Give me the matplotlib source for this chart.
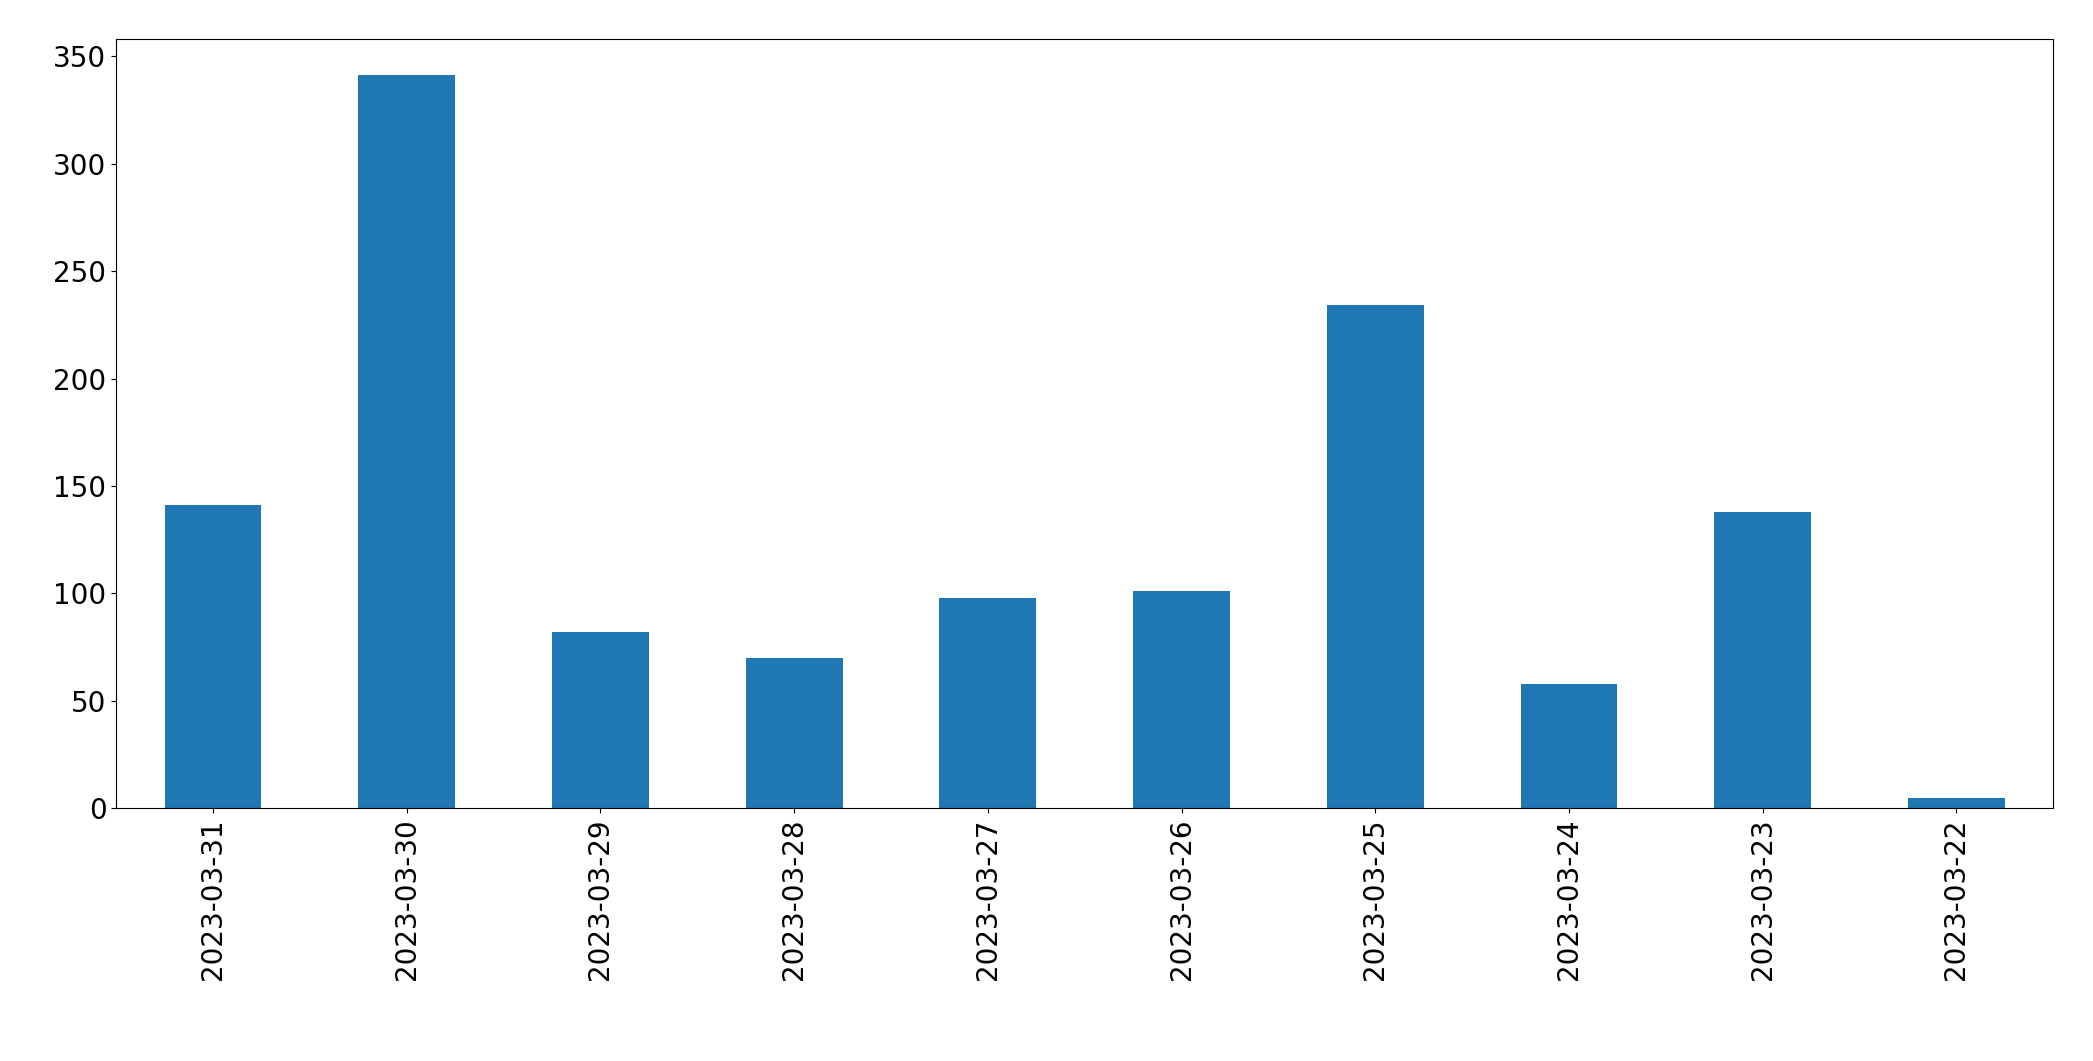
import matplotlib
matplotlib.use("Agg")
import matplotlib.pyplot as plt

dates = ["2023-03-31", "2023-03-30", "2023-03-29", "2023-03-28", "2023-03-27",
         "2023-03-26", "2023-03-25", "2023-03-24", "2023-03-23", "2023-03-22"]
counts = [141, 341, 82, 70, 98, 101, 234, 58, 138, 5]

fig = plt.figure(figsize=(20.93, 10.61), dpi=100)
ax = fig.add_axes([0.0555, 0.238, 0.9255, 0.7255])
x = range(len(dates))
ax.bar(x, counts, width=0.5, color="#1f77b4")
ax.set_xlim(-0.5, len(dates) - 0.5)
ax.set_xticks(list(x))
ax.set_xticklabels(dates, rotation=90)
ax.tick_params(labelsize=20)
fig.savefig("out.png")
